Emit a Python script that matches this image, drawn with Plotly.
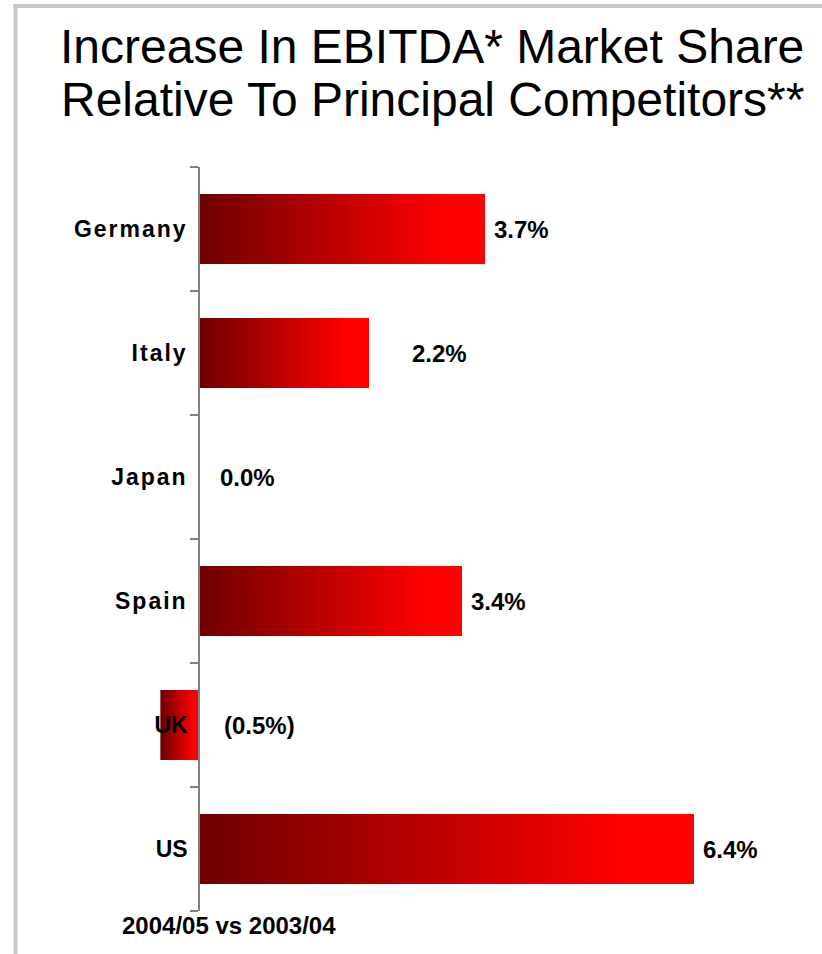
import plotly.graph_objects as go

# Data
countries = ["Germany", "Italy", "Japan", "Spain", "UK", "US"]
change_pct = [3.7, 2.2, 0.0, 3.4, -0.5, 6.4]
period_label = "2004/05 vs 2003/04"
title_lines = ["Increase In EBITDA* Market Share", "Relative To Principal Competitors**"]

# Layout constants (pixels)
W, H = 822, 954
ML, MR, MT, MB = 140, 22, 167, 43
PLOT_W = W - ML - MR
PLOT_H = H - MT - MB
ZERO_PX = 199          # horizontal pixel where 0% sits
PX_PER_PCT = 77.2
BAR_PX = 70            # bar thickness in pixels (whole number keeps edges crisp)
FONT = "Liberation Sans, Arial, sans-serif"

x_lo = (ML - ZERO_PX) / PX_PER_PCT
x_hi = (W - MR - ZERO_PX) / PX_PER_PCT
bar_width = BAR_PX / (PLOT_H / len(countries))


def px_x(p):
    return (p - ML) / PLOT_W


def px_y(p):
    return (H - MB - p) / PLOT_H


def shade(t):
    r = min(255, round(111 + 167 * t))
    return f"rgb({r},0,0)"


def fmt(v):
    return f"({abs(v):.1f}%)" if v < 0 else f"{v:.1f}%"


fig = go.Figure()

# Each bar is painted as a stack of overlapping slices, every slice running
# from its own start to the bar's far end, brightening from dark red at the
# left end to full red towards the right end.
N = 80
lefts = [min(v, 0.0) for v in change_pct]
lengths = [abs(v) for v in change_pct]
for k in range(N):
    t = k / N
    fig.add_trace(go.Bar(
        y=countries,
        x=[L * (1 - t) for L in lengths],
        base=[lf + L * t for lf, L in zip(lefts, lengths)],
        orientation="h",
        width=bar_width,
        marker=dict(color=shade(t), line=dict(width=0), cornerradius=0),
        hoverinfo="skip",
        showlegend=False,
    ))

# Value labels, nudged right of each bar
label_shift = [7, 41, 19, 8, 23, 8]
annotations = []
for c, v, s in zip(countries, change_pct, label_shift):
    annotations.append(dict(
        x=max(v, 0.0), y=c, xref="x", yref="y",
        text=f"<b>{fmt(v)}</b>", showarrow=False,
        xanchor="left", yanchor="middle", xshift=s,
        font=dict(family=FONT, size=24, color="black"),
    ))

# Two-line heading
for line, cy in zip(title_lines, [46, 99]):
    annotations.append(dict(
        x=px_x(432), y=px_y(cy), xref="paper", yref="paper",
        text=line, showarrow=False, xanchor="center", yanchor="middle",
        font=dict(family=FONT, size=48, color="black"),
    ))

# Period caption under the axis
annotations.append(dict(
    x=px_x(120), y=px_y(925), xref="paper", yref="paper",
    text=f"<b>{period_label}</b>", showarrow=False,
    xanchor="left", yanchor="middle",
    font=dict(family=FONT, size=24, color="black"),
))

# Frame lines along the top and left edges
frame = dict(color="#c8c8c8", width=4)
shapes = [
    dict(type="line", xref="paper", yref="paper",
         x0=px_x(13.5), x1=px_x(W + 5), y0=px_y(6), y1=px_y(6), line=frame),
    dict(type="line", xref="paper", yref="paper",
         x0=px_x(15.5), x1=px_x(15.5), y0=px_y(4), y1=px_y(H + 5), line=frame),
]

tick_text = [
    f'<b><span style="letter-spacing:2px">{c}</span></b>' if len(c) > 2 else f"<b>{c}</b>"
    for c in countries
]

fig.update_layout(
    width=W, height=H,
    margin=dict(l=ML, r=MR, t=MT, b=MB, autoexpand=False),
    paper_bgcolor="white", plot_bgcolor="white",
    barmode="overlay", barcornerradius=0,
    showlegend=False,
    annotations=annotations,
    shapes=shapes,
    xaxis=dict(range=[x_lo, x_hi], visible=False, showgrid=False, zeroline=False,
               fixedrange=True),
    yaxis=dict(
        type="category", autorange="reversed",
        categoryorder="array", categoryarray=countries,
        tickvals=countries, ticktext=tick_text,
        anchor="free", position=(ZERO_PX - ML) / PLOT_W,
        showline=True, linecolor="#808080", linewidth=1.5,
        ticks="outside", ticklen=8, tickcolor="#808080", tickwidth=1.5,
        tickson="boundaries", showgrid=False, zeroline=False,
        ticklabelstandoff=6,
        tickfont=dict(family=FONT, size=23, color="black"),
        layer="above traces", automargin=False, fixedrange=True,
    ),
)

fig.write_html("out.html")
